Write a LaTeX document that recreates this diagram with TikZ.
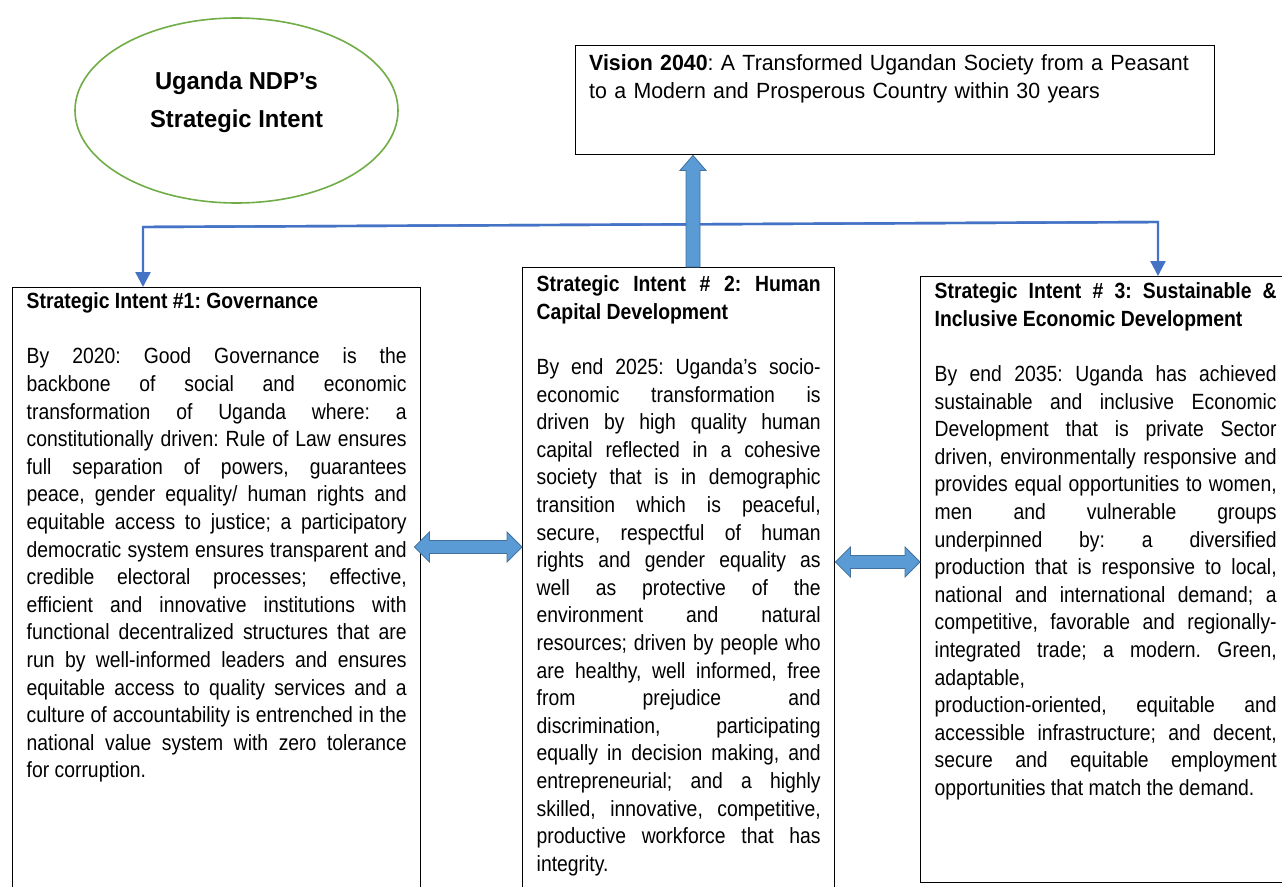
\documentclass[tikz,border=0pt]{standalone}
\usepackage{fontspec}
\setmainfont{Liberation Sans}[FakeStretch=0.88]
\newfontfamily\widefont{Liberation Sans}[FakeStretch=0.97]
\usetikzlibrary{arrows.meta,positioning,shapes.geometric,calc}
\definecolor{linkblue}{HTML}{4472C4}
\definecolor{blockfill}{HTML}{5B9BD5}
\definecolor{blockedge}{HTML}{41719C}
\definecolor{ovalgreen}{HTML}{70AD47}
\newcommand{\bodyfont}{\fontsize{22}{27.6}\selectfont\frenchspacing\tolerance=10000\hbadness=10000\relax}

\begin{document}
\begin{tikzpicture}[x=1pt,y=-1pt,
    intentbox/.style={draw,line width=1.4pt,anchor=north west,inner xsep=14pt,inner ysep=4pt,align=justify,font=\bodyfont},
    linkline/.style={linkblue,line width=2.4pt,line join=miter,-{Triangle[length=15pt,width=15pt]}},
    blockarrow/.style={fill=blockfill,draw=blockedge,line width=0.8pt,line join=miter}]
    \useasboundingbox (0,0) rectangle (1282,886);
    \clip (0,0) rectangle (1282,886);

    \node[draw=ovalgreen,line width=1.6pt,ellipse,minimum width=323pt,minimum height=185pt] (ndp) at (236.5,110.5) {};
    \node[font=\widefont\bfseries\fontsize{24.5}{38}\selectfont,align=center] (ndptitle) at (236.5,102) {Uganda NDP’s\\Strategic Intent};

    \node[draw,line width=1.4pt,anchor=north west,inner xsep=13.5pt,inner ysep=4pt,text width=612pt,text height=21pt,text depth=80pt,align=left,font=\widefont\fontsize{22}{27.6}\selectfont\frenchspacing] (vision) at (575,45)
      {\textbf{Vision 2040}: A Transformed Ugandan Society from a Peasant\\to a Modern and Prosperous Country within 30 years};

    \node[intentbox,text width=380pt,text height=17pt,text depth=640pt] (si1) at (12,287)
      {\textbf{Strategic Intent \#1: Governance}\par\vskip27.6pt
       By 2020: Good Governance is the\linebreak
       backbone of social and economic\linebreak
       transformation of Uganda where: a\linebreak
       constitutionally driven: Rule of Law ensures\linebreak
       full separation of powers, guarantees\linebreak
       peace, gender equality/ human rights and\linebreak
       equitable access to justice; a participatory\linebreak
       democratic system ensures transparent and\linebreak
       credible electoral processes; effective,\linebreak
       efficient and innovative institutions with\linebreak
       functional decentralized structures that are\linebreak
       run by well-informed leaders and ensures\linebreak
       equitable access to quality services and a\linebreak
       culture of accountability is entrenched in the\linebreak
       national value system with zero tolerance\linebreak
       for corruption.};

    \node[intentbox,text width=284pt,text height=20pt,text depth=640pt] (si2) at (522,267)
      {\textbf{Strategic Intent \# 2: Human\linebreak
       Capital Development}\par\vskip27.6pt
       By end 2025: Uganda’s socio-\linebreak
       economic transformation is\linebreak
       driven by high quality human\linebreak
       capital reflected in a cohesive\linebreak
       society that is in demographic\linebreak
       transition which is peaceful,\linebreak
       secure, respectful of human\linebreak
       rights and gender equality as\linebreak
       well as protective of the\linebreak
       environment and natural\linebreak
       resources; driven by people who\linebreak
       are healthy, well informed, free\linebreak
       from prejudice and\linebreak
       discrimination, participating\linebreak
       equally in decision making, and\linebreak
       entrepreneurial; and a highly\linebreak
       skilled, innovative, competitive,\linebreak
       productive workforce that has\linebreak
       integrity.};

    \node[intentbox,text width=342pt,text height=18pt,text depth=580pt] (si3) at (920,276)
      {\textbf{Strategic Intent \# 3: Sustainable \&\linebreak
       Inclusive Economic Development}\par\vskip27.6pt
       By end 2035: Uganda has achieved\linebreak
       sustainable and inclusive Economic\linebreak
       Development that is private Sector\linebreak
       driven, environmentally responsive and\linebreak
       provides equal opportunities to women,\linebreak
       men and vulnerable groups\linebreak
       underpinned by: a diversified\linebreak
       production that is responsive to local,\linebreak
       national and international demand; a\linebreak
       competitive, favorable and regionally-\linebreak
       integrated trade; a modern. Green,\linebreak
       adaptable,\newline
       production-oriented, equitable and\linebreak
       accessible infrastructure; and decent,\linebreak
       secure and equitable employment\linebreak
       opportunities that match the demand.};

    % bracket from the vision down to the outer intents
    \coordinate (spineL) at (143,227);
    \coordinate (spineR) at (1158,222);
    \draw[linkline] (spineR) -- (spineL) -- (si1.north -| spineL);
    \draw[linkline] (spineL) -- (spineR) -- (si3.north -| spineR);

    % thick arrow up into the vision
    \coordinate (riseX) at (693,0);
    \coordinate (upTail) at (si2.north -| riseX);
    \coordinate (upTip) at (vision.south -| riseX);
    \draw[blockarrow] ($(upTail)+(-7,0)$) -- ($(upTip)+(-7,15)$) -- ($(upTip)+(-13,15)$) -- (upTip)
      -- ($(upTip)+(13,15)$) -- ($(upTip)+(7,15)$) -- ($(upTail)+(7,0)$) -- cycle;

    % two-way arrows between the intents
    \coordinate (rowA) at (0,547);
    \coordinate (rowB) at (0,562);
    \coordinate (dlA) at ($(si1.east |- rowA)+(-7,0)$);
    \coordinate (drA) at (si2.west |- rowA);
    \coordinate (dlB) at (si2.east |- rowB);
    \coordinate (drB) at (si3.west |- rowB);
    \draw[blockarrow] (dlA) -- ($(dlA)+(15,-15)$) -- ($(dlA)+(15,-6.5)$) -- ($(drA)+(-15,-6.5)$) -- ($(drA)+(-15,-15)$) -- (drA)
      -- ($(drA)+(-15,15)$) -- ($(drA)+(-15,6.5)$) -- ($(dlA)+(15,6.5)$) -- ($(dlA)+(15,15)$) -- cycle;
    \draw[blockarrow] (dlB) -- ($(dlB)+(15,-15)$) -- ($(dlB)+(15,-6.5)$) -- ($(drB)+(-15,-6.5)$) -- ($(drB)+(-15,-15)$) -- (drB)
      -- ($(drB)+(-15,15)$) -- ($(drB)+(-15,6.5)$) -- ($(dlB)+(15,6.5)$) -- ($(dlB)+(15,15)$) -- cycle;
\end{tikzpicture}
\end{document}
